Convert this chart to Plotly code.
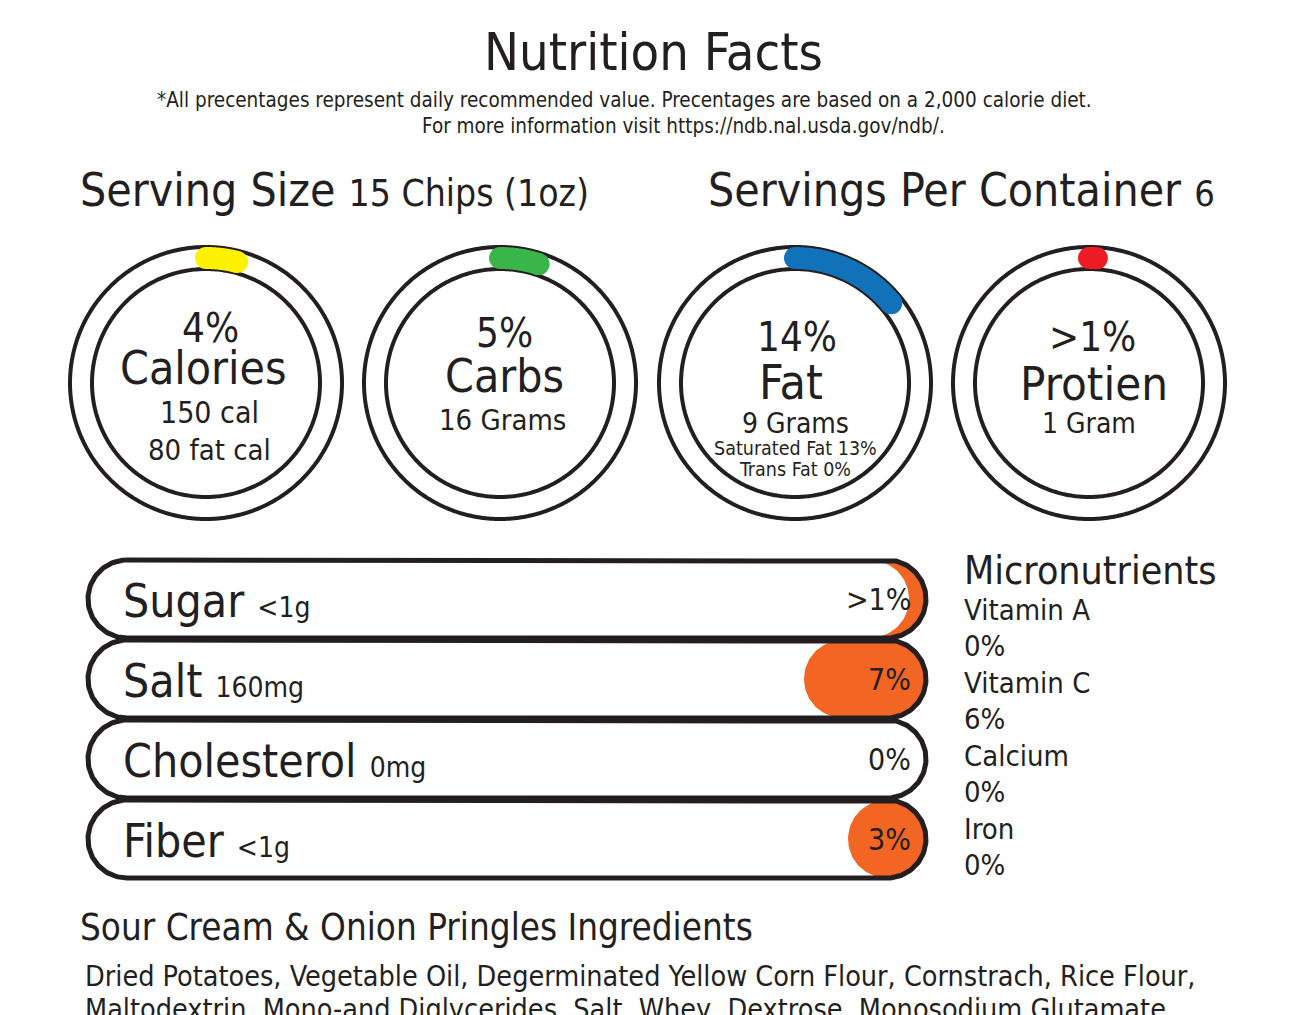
import numpy as np
import plotly.graph_objects as go

W, H = 1296, 1015
OFF = 8  # page body margin, the figure sits 8px in from the window corner
BLACK = "#231F20"
ORANGE = "#F26522"
FONT = "DejaVu Sans Condensed, Liberation Sans Narrow, sans-serif"

# donuts
donut_names = ["Calories", "Carbs", "Fat", "Protien"]
donut_pct = [4, 5, 14, 1]
donut_pct_labels = ["4%", "5%", "14%", ">1%"]
donut_colors = ["#FFF200", "#39B54A", "#1172B9", "#ED1C24"]
donut_sub = [["150 cal", "80 fat cal"], ["16 Grams"], ["9 Grams"], ["1 Gram"]]
fat_detail = ["Saturated Fat 13%", "Trans Fat 0%"]

# bars
bar_names = ["Sugar", "Salt", "Cholesterol", "Fiber"]
bar_amounts = ["<1g", "160mg", "0mg", "<1g"]
bar_pct = [1, 7, 0, 3]
bar_pct_labels = [">1%", "7%", "0%", "3%"]

# micronutrients
micro_names = ["Vitamin A", "Vitamin C", "Calcium", "Iron"]
micro_pct = ["0%", "6%", "0%", "0%"]

ingredients = ["Dried Potatoes, Vegetable Oil, Degerminated Yellow Corn Flour, Cornstrach, Rice Flour,",
               "Maltodextrin, Mono-and Diglycerides, Salt, Whey, Dextrose, Monosodium Glutamate,"]

fig = go.Figure()
annots = []

def txt(x, y, s, size, anchor="center", family=FONT):
    annots.append(dict(x=x, y=y, xref="x", yref="y", text=s, showarrow=False,
                       xanchor=anchor, yanchor="middle",
                       font=dict(size=size, family=family, color=BLACK)))

# --- donut rings (polar subplots) ---
cxs = [206, 500, 795, 1089]
cy = 383
R = 140
for i, (name, pct, col) in enumerate(zip(donut_names, donut_pct, donut_colors)):
    key = "polar" if i == 0 else "polar%d" % (i + 1)
    th = np.arange(361)
    for rr in (136, 114):
        fig.add_trace(go.Scatterpolar(r=np.full(th.size, rr), theta=th, mode="lines",
                                      line=dict(color=BLACK, width=4), subplot=key,
                                      hoverinfo="skip", showlegend=False))
    arc = np.linspace(0, pct * 3.6, 60)
    fig.add_trace(go.Scatterpolar(r=np.full(arc.size, 125), theta=arc, mode="lines",
                                  line=dict(color=col, width=22), subplot=key,
                                  hoverinfo="skip", showlegend=False))
    fig.add_trace(go.Scatterpolar(r=[125, 125], theta=[0, pct * 3.6], mode="markers",
                                  marker=dict(color=col, size=22), subplot=key,
                                  hoverinfo="skip", showlegend=False))
    fig.update_layout(**{key: dict(
        domain=dict(x=[(cxs[i] - OFF - R) / W, (cxs[i] - OFF + R) / W],
                    y=[(H - cy + OFF - R) / H, (H - cy + OFF + R) / H]),
        bgcolor="rgba(0,0,0,0)",
        radialaxis=dict(range=[0, R], visible=False),
        angularaxis=dict(visible=False, rotation=90, direction="clockwise"))})

# donut texts
txt(210, 328, donut_pct_labels[0], 40)
txt(203, 368, donut_names[0], 46)
txt(209, 412, donut_sub[0][0], 30)
txt(209, 450, donut_sub[0][1], 29)
txt(504, 333, donut_pct_labels[1], 40)
txt(504, 376, donut_names[1], 46)
txt(502, 420, donut_sub[1][0], 29)
txt(797, 337, donut_pct_labels[2], 40)
txt(791, 382, donut_names[2], 48)
txt(795, 423, donut_sub[2][0], 28)
txt(795, 448, fat_detail[0], 19.5)
txt(795, 469, fat_detail[1], 19.5)
txt(1092, 337, donut_pct_labels[3], 40)
txt(1094, 383, donut_names[3], 47)
txt(1089, 423, donut_sub[3][0], 28)

# --- pill bars ---
left, right, r = 127, 887, 39
pitch = 80
y0 = 599
for i, (name, amt, pct, lab) in enumerate(zip(bar_names, bar_amounts, bar_pct, bar_pct_labels)):
    yc = y0 + i * pitch
    if pct > 0:
        w = 45 + 11 * pct
        t = np.linspace(-np.pi / 2, np.pi / 2, 60)
        if w >= 2 * r:
            cl = right + r - w + r
            xs = np.concatenate([right + r * np.cos(t), cl - r * np.cos(t)])
            ys = np.concatenate([yc + r * np.sin(t), yc - r * np.sin(t)])
        else:
            d = w - r
            xs = np.concatenate([right + r * np.cos(t), right - d + r * np.cos(t[::-1])])
            ys = np.concatenate([yc + r * np.sin(t), yc + r * np.sin(t[::-1])])
        fig.add_trace(go.Scatter(x=xs, y=ys, fill="toself", fillcolor=ORANGE, mode="lines",
                                 line=dict(width=0, color=ORANGE), hoverinfo="skip", showlegend=False))
    t = np.linspace(-np.pi / 2, np.pi / 2, 80)
    ox = np.concatenate([[left], right + r * np.cos(t), [left], left - r * np.cos(t)])
    oy = np.concatenate([[yc - r], yc + r * np.sin(t), [yc + r], yc - r * np.sin(t)])
    fig.add_trace(go.Scatter(x=ox, y=oy, mode="lines", line=dict(color=BLACK, width=5),
                             hoverinfo="skip", showlegend=False))
    txt(121, yc + 2, name + " <span style='font-size:28px'>" + amt.replace("<", "&lt;") + "</span>", 46, "left")
    txt(913, yc, lab.replace(">", "&gt;"), 30, "right")

# --- headings ---
txt(653, 52, "Nutrition Facts", 52)
txt(624, 100, "*All precentages represent daily recommended value. Precentages are based on a 2,000 calorie diet.", 20.5)
txt(683, 126, "For more information visit https://ndb.nal.usda.gov/ndb/.", 20.5)
txt(78, 190, "Serving Size <span style='font-size:37px'>15 Chips (1oz)</span>", 46, "left")
txt(706, 190, "Servings Per Container <span style='font-size:36px'>6</span>", 46, "left")

txt(962, 570, "Micronutrients", 39, "left")
for i, (n, p) in enumerate(zip(micro_names, micro_pct)):
    txt(962, 610 + i * 73, n, 29, "left")
    txt(962, 646 + i * 73, p, 29, "left")

txt(78, 927, "Sour Cream &amp; Onion Pringles Ingredients", 36.5, "left")
txt(83, 976, ingredients[0], 28.5, "left")
txt(83, 1009, ingredients[1], 28.5, "left")

fig.update_layout(
    width=W, height=H, margin=dict(l=0, r=0, t=0, b=0),
    paper_bgcolor="white", plot_bgcolor="white", showlegend=False,
    xaxis=dict(range=[OFF, W + OFF], visible=False, fixedrange=True),
    yaxis=dict(range=[H + OFF, OFF], visible=False, fixedrange=True),
    annotations=annots,
)

fig.write_html("out.html")
